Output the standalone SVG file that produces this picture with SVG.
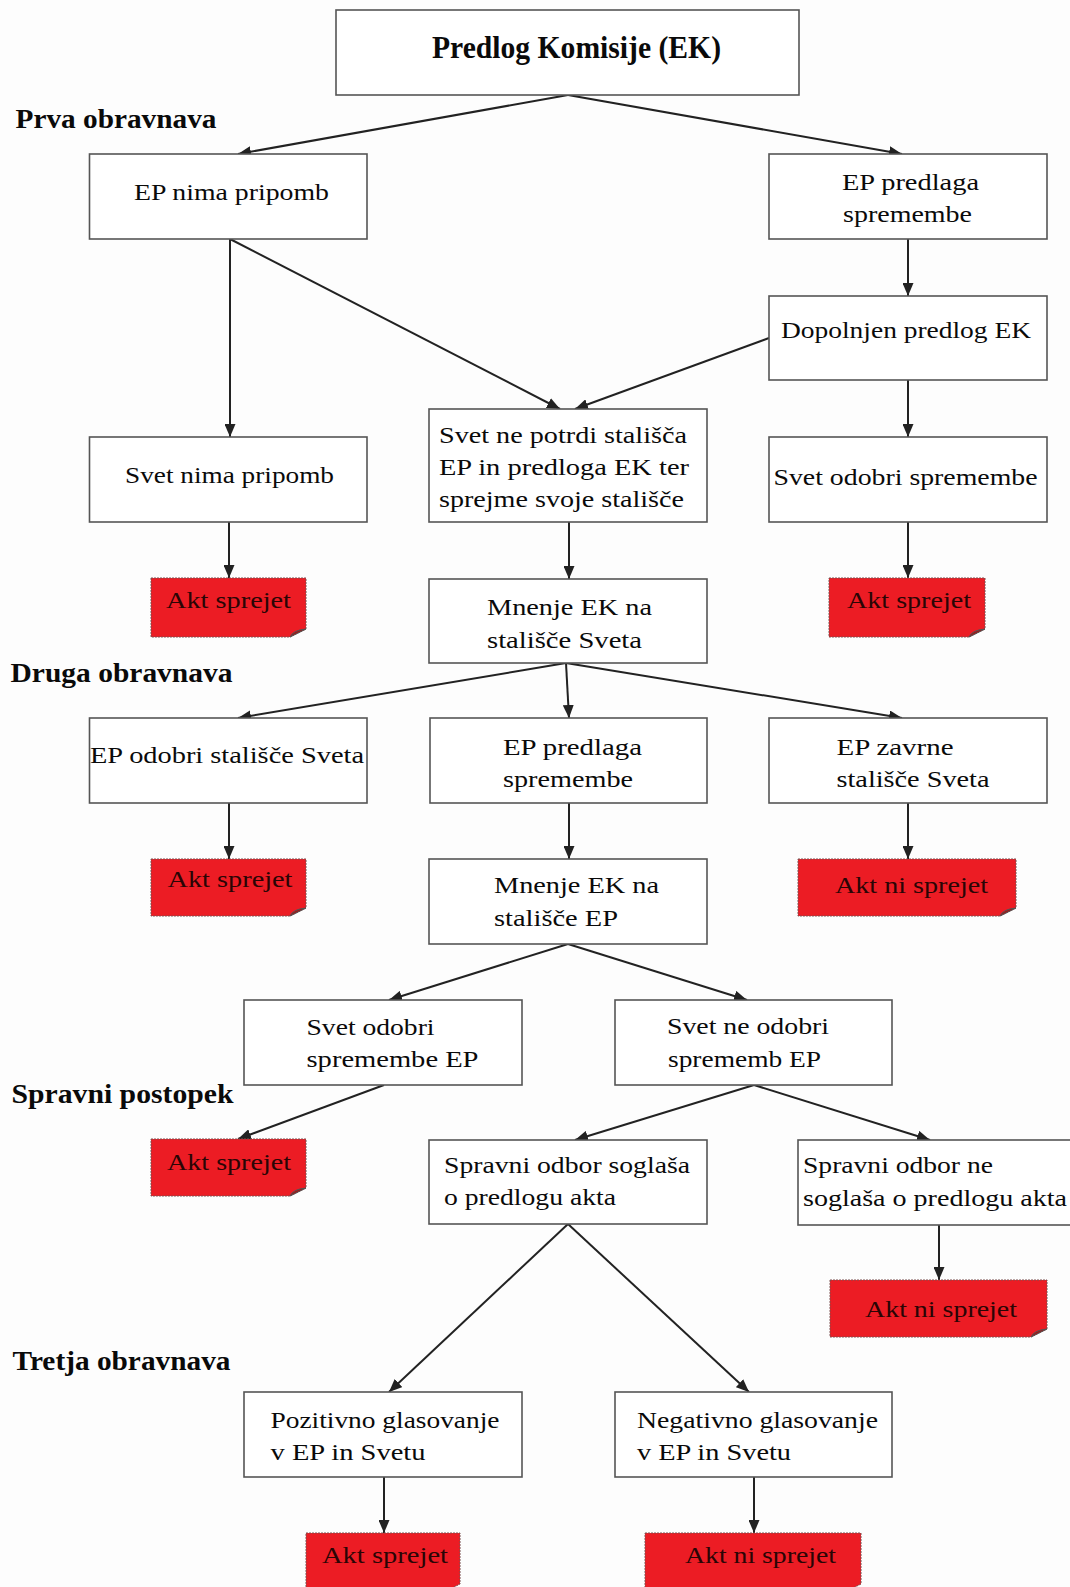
<svg xmlns="http://www.w3.org/2000/svg" width="1070" height="1587" viewBox="0 0 1070 1587">
<defs>
<style>
.box{fill:#fff;stroke:#555;stroke-width:1.6}
.red{fill:#ec1c24;stroke:#7a5050;stroke-width:1;stroke-dasharray:2 1}
.fold{fill:#9a1a1a;stroke:#555;stroke-width:1}
.t{font-family:"Liberation Serif","Times New Roman",serif;font-size:24px;fill:#0a0a0a}
.rt{font-family:"Liberation Serif","Times New Roman",serif;font-size:24px;fill:#2a0505}
.h{font-family:"Liberation Serif","Times New Roman",serif;font-size:28px;font-weight:bold;fill:#0a0a0a}
.ti{font-family:"Liberation Serif","Times New Roman",serif;font-size:32px;font-weight:bold;fill:#0a0a0a}
.c{stroke:#222;stroke-width:2;fill:none;marker-end:url(#ah)}
</style>
<marker id="ah" markerUnits="userSpaceOnUse" markerWidth="13" markerHeight="11" refX="13" refY="5.5" orient="auto">
<path d="M0,0 L13,5.5 L0,11 z" fill="#222"/>
</marker>
</defs>
<rect x="0" y="0" width="1070" height="1587" fill="#fdfdfd"/>

<g id="labels">
<text class="h" x="15.5" y="128" textLength="201" lengthAdjust="spacingAndGlyphs">Prva obravnava</text>
<text class="h" x="10.5" y="682" textLength="222" lengthAdjust="spacingAndGlyphs">Druga obravnava</text>
<text class="h" x="11.5" y="1103" textLength="222" lengthAdjust="spacingAndGlyphs">Spravni postopek</text>
<text class="h" x="12.5" y="1370" textLength="218" lengthAdjust="spacingAndGlyphs">Tretja obravnava</text>
</g>

<g id="connectors">
<line class="c" x1="568" y1="95" x2="238" y2="154"/>
<line class="c" x1="568" y1="95" x2="902" y2="154"/>
<line class="c" x1="908" y1="239" x2="908" y2="296"/>
<line class="c" x1="230" y1="239" x2="230" y2="437"/>
<line class="c" x1="230" y1="239" x2="560" y2="409"/>
<line class="c" x1="769" y1="338" x2="575" y2="409"/>
<line class="c" x1="908" y1="380" x2="908" y2="437"/>
<line class="c" x1="229" y1="522" x2="229" y2="578"/>
<line class="c" x1="908" y1="522" x2="908" y2="578"/>
<line class="c" x1="569" y1="522" x2="569" y2="579"/>
<line class="c" x1="566" y1="663" x2="238" y2="718"/>
<line class="c" x1="566" y1="663" x2="569" y2="718"/>
<line class="c" x1="566" y1="663" x2="902" y2="718"/>
<line class="c" x1="229" y1="803" x2="229" y2="859"/>
<line class="c" x1="569" y1="803" x2="569" y2="859"/>
<line class="c" x1="908" y1="803" x2="908" y2="859"/>
<line class="c" x1="568" y1="944" x2="389" y2="1000"/>
<line class="c" x1="568" y1="944" x2="747" y2="1000"/>
<line class="c" x1="384" y1="1085" x2="238" y2="1139"/>
<line class="c" x1="754" y1="1085" x2="575" y2="1140"/>
<line class="c" x1="754" y1="1085" x2="930" y2="1140"/>
<line class="c" x1="568" y1="1224" x2="389" y2="1392"/>
<line class="c" x1="568" y1="1224" x2="749" y2="1392"/>
<line class="c" x1="939" y1="1225" x2="939" y2="1280"/>
<line class="c" x1="384" y1="1477" x2="384" y2="1533"/>
<line class="c" x1="754" y1="1477" x2="754" y2="1533"/>
</g>

<g id="n-predlog">
<rect class="box" x="336" y="10" width="463" height="85"/>
<text class="ti" x="432" y="58" textLength="289" lengthAdjust="spacingAndGlyphs">Predlog Komisije (EK)</text>
</g>
<g id="n-ep-nima">
<rect class="box" x="89.5" y="154" width="277.5" height="85"/>
<text class="t" x="134" y="200" textLength="195" lengthAdjust="spacingAndGlyphs">EP nima pripomb</text>
</g>
<g id="n-ep-predlaga1">
<rect class="box" x="769" y="154" width="278" height="85"/>
<text class="t" x="842" y="190" textLength="137" lengthAdjust="spacingAndGlyphs">EP predlaga</text>
<text class="t" x="843" y="222" textLength="129" lengthAdjust="spacingAndGlyphs">spremembe</text>
</g>
<g id="n-dopolnjen">
<rect class="box" x="769" y="296" width="278" height="84"/>
<text class="t" x="781" y="338" textLength="250" lengthAdjust="spacingAndGlyphs">Dopolnjen predlog EK</text>
</g>
<g id="n-svet-nima">
<rect class="box" x="89.5" y="437" width="277.5" height="85"/>
<text class="t" x="125" y="483" textLength="209" lengthAdjust="spacingAndGlyphs">Svet nima pripomb</text>
</g>
<g id="n-svet-ne-potrdi">
<rect class="box" x="429" y="409" width="278" height="113"/>
<text class="t" x="439" y="443" textLength="248" lengthAdjust="spacingAndGlyphs">Svet ne potrdi stališča</text>
<text class="t" x="439" y="475" textLength="250" lengthAdjust="spacingAndGlyphs">EP in predloga EK ter</text>
<text class="t" x="439" y="507" textLength="245" lengthAdjust="spacingAndGlyphs">sprejme svoje stališče</text>
</g>
<g id="n-svet-odobri-spr">
<rect class="box" x="769" y="437" width="278" height="85"/>
<text class="t" x="773.5" y="485" textLength="264" lengthAdjust="spacingAndGlyphs">Svet odobri spremembe</text>
</g>
<g id="n-akt1">
<path class="red" d="M151,578 H306 V629 L290,637 H151 Z"/>
<path class="fold" d="M290,637 Q293,630 306,629 Q298,633 290,637 Z"/>
<text class="rt" x="166" y="608" textLength="125" lengthAdjust="spacingAndGlyphs">Akt sprejet</text>
</g>
<g id="n-akt2">
<path class="red" d="M829,578 H985 V629 L969,637 H829 Z"/>
<path class="fold" d="M969,637 Q972,630 985,629 Q977,633 969,637 Z"/>
<text class="rt" x="847" y="608" textLength="124" lengthAdjust="spacingAndGlyphs">Akt sprejet</text>
</g>
<g id="n-mnenje-sveta">
<rect class="box" x="429" y="579" width="278" height="84"/>
<text class="t" x="487" y="615" textLength="165" lengthAdjust="spacingAndGlyphs">Mnenje EK na</text>
<text class="t" x="487" y="648" textLength="155" lengthAdjust="spacingAndGlyphs">stališče Sveta</text>
</g>
<g id="n-ep-odobri">
<rect class="box" x="89.5" y="718" width="277.5" height="85"/>
<text class="t" x="90" y="763" textLength="274" lengthAdjust="spacingAndGlyphs">EP odobri stališče Sveta</text>
</g>
<g id="n-ep-predlaga2">
<rect class="box" x="430" y="718" width="277" height="85"/>
<text class="t" x="503" y="755" textLength="139" lengthAdjust="spacingAndGlyphs">EP predlaga</text>
<text class="t" x="503" y="787" textLength="130" lengthAdjust="spacingAndGlyphs">spremembe</text>
</g>
<g id="n-ep-zavrne">
<rect class="box" x="769" y="718" width="278" height="85"/>
<text class="t" x="836.5" y="755" textLength="117" lengthAdjust="spacingAndGlyphs">EP zavrne</text>
<text class="t" x="836.5" y="787" textLength="153" lengthAdjust="spacingAndGlyphs">stališče Sveta</text>
</g>
<g id="n-akt3">
<path class="red" d="M151,859 H306 V908 L290,916 H151 Z"/>
<path class="fold" d="M290,916 Q293,909 306,908 Q298,912 290,916 Z"/>
<text class="rt" x="167.5" y="887" textLength="125" lengthAdjust="spacingAndGlyphs">Akt sprejet</text>
</g>
<g id="n-mnenje-ep">
<rect class="box" x="429" y="859" width="278" height="85"/>
<text class="t" x="494" y="893" textLength="165" lengthAdjust="spacingAndGlyphs">Mnenje EK na</text>
<text class="t" x="494" y="926" textLength="124" lengthAdjust="spacingAndGlyphs">stališče EP</text>
</g>
<g id="n-akt4">
<path class="red" d="M798,859 H1016 V908 L1000,916 H798 Z"/>
<path class="fold" d="M1000,916 Q1003,909 1016,908 Q1008,912 1000,916 Z"/>
<text class="rt" x="835" y="893" textLength="153" lengthAdjust="spacingAndGlyphs">Akt ni sprejet</text>
</g>
<g id="n-svet-odobri-ep">
<rect class="box" x="244" y="1000" width="278" height="85"/>
<text class="t" x="306.5" y="1035" textLength="128" lengthAdjust="spacingAndGlyphs">Svet odobri</text>
<text class="t" x="306.5" y="1067" textLength="172" lengthAdjust="spacingAndGlyphs">spremembe EP</text>
</g>
<g id="n-svet-ne-odobri">
<rect class="box" x="615" y="1000" width="277" height="85"/>
<text class="t" x="667" y="1034" textLength="162" lengthAdjust="spacingAndGlyphs">Svet ne odobri</text>
<text class="t" x="668" y="1067" textLength="153" lengthAdjust="spacingAndGlyphs">sprememb EP</text>
</g>
<g id="n-akt5">
<path class="red" d="M151,1139 H306 V1188 L290,1196 H151 Z"/>
<path class="fold" d="M290,1196 Q293,1189 306,1188 Q298,1192 290,1196 Z"/>
<text class="rt" x="167" y="1170" textLength="124" lengthAdjust="spacingAndGlyphs">Akt sprejet</text>
</g>
<g id="n-spravni-soglasa">
<rect class="box" x="429" y="1140" width="278" height="84"/>
<text class="t" x="444" y="1173" textLength="246" lengthAdjust="spacingAndGlyphs">Spravni odbor soglaša</text>
<text class="t" x="444" y="1205" textLength="172" lengthAdjust="spacingAndGlyphs">o predlogu akta</text>
</g>
<g id="n-spravni-ne-soglasa">
<rect class="box" x="798" y="1140" width="280" height="85"/>
<text class="t" x="803" y="1173" textLength="190" lengthAdjust="spacingAndGlyphs">Spravni odbor ne</text>
<text class="t" x="803" y="1206" textLength="264" lengthAdjust="spacingAndGlyphs">soglaša o predlogu akta</text>
</g>
<g id="n-akt6">
<path class="red" d="M830,1280 H1047 V1329 L1031,1337 H830 Z"/>
<path class="fold" d="M1031,1337 Q1034,1330 1047,1329 Q1039,1333 1031,1337 Z"/>
<text class="rt" x="865" y="1317" textLength="152" lengthAdjust="spacingAndGlyphs">Akt ni sprejet</text>
</g>
<g id="n-pozitivno">
<rect class="box" x="244" y="1392" width="278" height="85"/>
<text class="t" x="270.5" y="1428" textLength="229" lengthAdjust="spacingAndGlyphs">Pozitivno glasovanje</text>
<text class="t" x="270.5" y="1460" textLength="155" lengthAdjust="spacingAndGlyphs">v EP in Svetu</text>
</g>
<g id="n-negativno">
<rect class="box" x="615" y="1392" width="277" height="85"/>
<text class="t" x="637" y="1428" textLength="241" lengthAdjust="spacingAndGlyphs">Negativno glasovanje</text>
<text class="t" x="637" y="1460" textLength="154" lengthAdjust="spacingAndGlyphs">v EP in Svetu</text>
</g>
<g id="n-akt7">
<path class="red" d="M306,1533 H460 V1584 L444,1592 H306 Z"/>
<text class="rt" x="322" y="1563" textLength="126" lengthAdjust="spacingAndGlyphs">Akt sprejet</text>
</g>
<g id="n-akt8">
<path class="red" d="M645,1533 H861 V1584 L845,1592 H645 Z"/>
<text class="rt" x="685" y="1563" textLength="151" lengthAdjust="spacingAndGlyphs">Akt ni sprejet</text>
</g>
</svg>
